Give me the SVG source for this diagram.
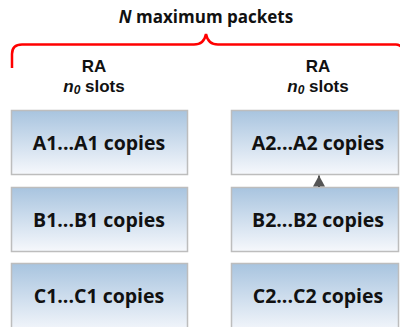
<svg xmlns="http://www.w3.org/2000/svg" width="400" height="327" viewBox="0 0 400 327">
  <defs>
    <linearGradient id="boxFill" x1="0" y1="0" x2="0" y2="1">
      <stop offset="0" stop-color="#a8c4df"/>
      <stop offset="1" stop-color="#f6f8fc"/>
    </linearGradient>
    <marker id="arrowHead" markerWidth="12" markerHeight="12" refX="6" refY="0" orient="0" markerUnits="userSpaceOnUse">
      <path d="M0,11 L6,0 L12,11 Z" fill="#555"/>
    </marker>
  </defs>
  <style>
    .box { fill: url(#boxFill); stroke: #bdbdbd; stroke-width: 1.5; }
    .lbl { font-family: "Open Sans", "Liberation Sans", sans-serif; font-weight: bold; font-size: 19.5px; fill: #111; text-anchor: middle; }
    .hdr { font-family: "Open Sans", "Liberation Sans", sans-serif; font-weight: bold; font-size: 17px; fill: #111; text-anchor: middle; }
    .sub { font-family: "Liberation Sans", Arial, sans-serif; font-weight: bold; font-size: 17px; fill: #111; text-anchor: middle; }
    .brace { fill: none; stroke: #ff0000; stroke-width: 2.5; }
  </style>

  <rect width="400" height="327" fill="#fff"/>

  <!-- Header and bracket -->
  <g id="header">
    <text class="hdr" x="206" y="23"><tspan font-style="italic">N</tspan> maximum packets</text>
    <path class="brace" d="M12,68 V54 Q12,44.5 22,44.5 H194 Q204,44.5 206,34 Q208,44.5 218,44.5 H396 Q400,44.5 402,48"/>
  </g>

  <!-- Two-line column captions -->
  <g id="ra-left">
    <text class="sub" x="94" y="72">RA</text>
    <text class="sub" x="94" y="92"><tspan font-style="italic">n</tspan><tspan font-style="italic" font-size="12" dy="2">0</tspan><tspan dy="-2"> slots</tspan></text>
  </g>
  <g id="ra-right">
    <text class="sub" x="318" y="72">RA</text>
    <text class="sub" x="318" y="92"><tspan font-style="italic">n</tspan><tspan font-style="italic" font-size="12" dy="2">0</tspan><tspan dy="-2"> slots</tspan></text>
  </g>

  <!-- Left column -->
  <g id="a1">
    <rect class="box" x="11.5" y="110.5" width="176" height="64"/>
    <text class="lbl" x="99" y="150">A1...A1 copies</text>
  </g>
  <g id="b1">
    <rect class="box" x="11.5" y="187.5" width="176" height="64"/>
    <text class="lbl" x="99" y="227">B1...B1 copies</text>
  </g>
  <g id="c1">
    <rect class="box" x="11.5" y="263.5" width="176" height="70"/>
    <text class="lbl" x="99" y="303">C1...C1 copies</text>
  </g>

  <!-- Right column -->
  <g id="a2">
    <rect class="box" x="231.5" y="110.5" width="167" height="64"/>
    <text class="lbl" x="318" y="150">A2...A2 copies</text>
  </g>
  <g id="b2">
    <rect class="box" x="231.5" y="187.5" width="167" height="64"/>
    <text class="lbl" x="318" y="227">B2...B2 copies</text>
  </g>
  <g id="c2">
    <rect class="box" x="231.5" y="263.5" width="167" height="70"/>
    <text class="lbl" x="318" y="303">C2...C2 copies</text>
  </g>

  <!-- Connectors -->
  <g id="connectors">
    <line x1="319" y1="187" x2="319" y2="175.5" stroke="#555" stroke-width="2" marker-end="url(#arrowHead)"/>
  </g>
</svg>
